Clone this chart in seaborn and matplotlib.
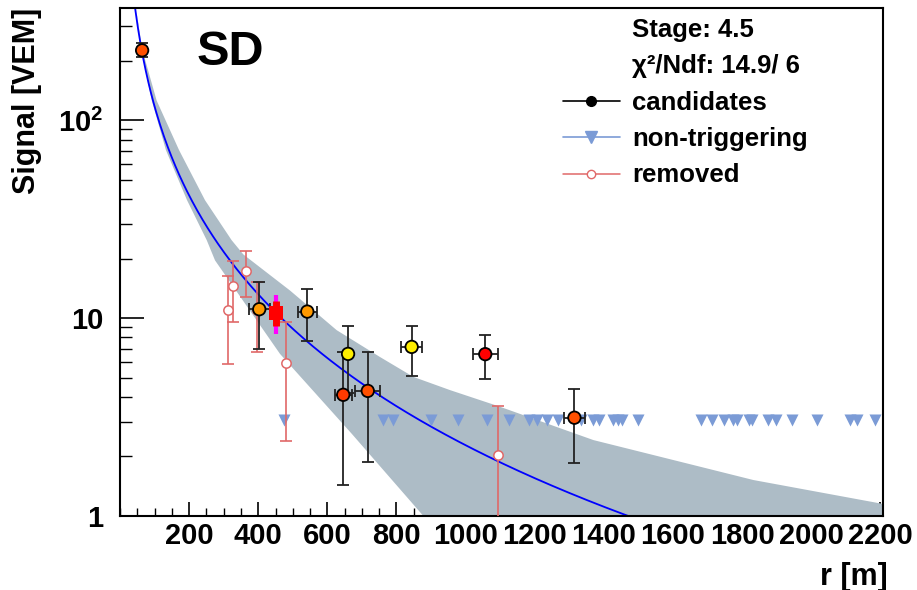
import numpy as np
import pandas as pd
import matplotlib
matplotlib.use("Agg")
import matplotlib.pyplot as plt
from matplotlib.lines import Line2D
from matplotlib.ticker import FixedLocator, FixedFormatter, MultipleLocator, LogLocator, NullFormatter
import seaborn as sns

# ---------------- data ----------------
# candidate stations
cand_r = [64, 403, 542, 646, 660, 717, 844, 1057, 1315]
cand_S = [226, 11.1, 10.8, 4.1, 6.6, 4.29, 7.16, 6.58, 3.14]
cand_S_hi = [245, 15.3, 14.0, 6.74, 9.1, 6.75, 9.1, 8.22, 4.41]
cand_S_lo = [210, 6.96, 7.67, 1.43, 4.2, 1.88, 5.1, 4.92, 1.85]
cand_r_err = [0, 31, 27, 24, 0, 36, 30, 36, 30]
cand_time = ["orangered", "orange", "orange", "red2", "yellow", "orangered", "yellow", "red", "orangered"]

# removed stations
rem_r = [313, 327, 364, 397, 480, 1095]
rem_S = [11.06, 14.5, 17.3, 11.06, 5.95, 2.03]
rem_S_hi = [16.3, 19.4, 21.8, 15.2, 9.6, 3.6]
rem_S_lo = [5.86, 9.6, 12.8, 6.76, 2.39, 0.5]

# non-triggering stations
nt_r = [475, 761, 790, 900, 979, 1062, 1126, 1184, 1207, 1236, 1268, 1334, 1369,
        1386, 1427, 1441, 1453, 1499, 1682, 1713, 1748, 1774, 1786, 1821, 1829,
        1876, 1899, 1945, 2017, 2113, 2133, 2185]
nt_S = [3.07] * len(nt_r)

# S(450) reference point
ref_r = [452]
ref_S = [10.6]
ref_stat = [(9.1, 12.2)]
ref_sys = [(8.3, 13.1)]

# LDF fit parameters
ldf_S1000 = 2.28
ldf_beta = -1.261
ldf_gamma = -0.12

# uncertainty band edges (r, S)
band_up_r = [46, 65, 106, 171, 246, 323, 357, 492, 627, 752, 849, 955, 1095, 1370, 1447, 1833, 2209, 2260]
band_up_S = [370, 226, 126, 70.7, 39.5, 24.8, 21.0, 13.8, 8.7, 6.37, 5.05, 4.33, 3.59, 2.42, 2.24, 1.52, 1.15, 1.12]
band_lo_r = [46, 62, 92, 133, 194, 251, 275, 463, 671, 878, 1000, 2260]
band_lo_S = [370, 226, 126, 70.7, 39.5, 24.8, 19.6, 6.6, 2.6, 1.0, 0.75, 0.75]

stage_text = "Stage: 4.5"
chi2_text = "\u03c7\u00b2/Ndf: 14.9/ 6"

# ---------------- styling ----------------
sns.set_theme(style="white")
plt.rcParams['font.family'] = ['Liberation Sans', 'DejaVu Sans']
plt.rcParams['font.weight'] = 'bold'
plt.rcParams['mathtext.fontset'] = 'custom'
plt.rcParams['mathtext.bf'] = 'Liberation Sans:bold'
plt.rcParams['mathtext.rm'] = 'Liberation Sans:bold'
for k in ["text.color", "axes.labelcolor", "xtick.color", "ytick.color", "axes.edgecolor"]:
    plt.rcParams[k] = "black"

palette = {"yellow": "#ffee00", "orange": "#ff9900", "orangered": "#ff5000",
           "red2": "#ff3a00", "red": "#ff0000"}
band_col = "#adbcc6"
nt_col = "#7b9bd6"
rem_col = "#e06868"

fig = plt.figure(figsize=(9.17, 5.90), dpi=100)
ax = fig.add_axes([120 / 917, 1 - 516 / 590, 763 / 917, 508 / 590])
ax.set_yscale("log")

# band
poly_r = list(band_up_r) + list(band_lo_r[::-1])
poly_S = list(band_up_S) + list(band_lo_S[::-1])
ax.fill(poly_r, poly_S, color=band_col, lw=0, zorder=1)

# fit line
rg = np.linspace(30, 2260, 600)
Sfit = ldf_S1000 * (rg / 1000) ** ldf_beta * ((rg + 700) / 1700) ** (ldf_beta + ldf_gamma)
sns.lineplot(x=rg, y=Sfit, color="#0000ff", lw=1.3, ax=ax, zorder=2, sort=False)

# non-triggering
sns.scatterplot(x=nt_r, y=nt_S, marker="v", color=nt_col, s=75, linewidth=0, ax=ax, zorder=3, legend=False)

# removed
rem_S_arr = np.array(rem_S)
ax.errorbar(rem_r, rem_S, yerr=[rem_S_arr - np.array(rem_S_lo), np.array(rem_S_hi) - rem_S_arr],
            fmt="none", ecolor=rem_col, elinewidth=1.2, capsize=4, capthick=1.2, zorder=4)
sns.scatterplot(x=rem_r, y=rem_S, marker="o", color="white", edgecolor=rem_col, linewidth=1.1,
                s=45, ax=ax, zorder=5, legend=False)

# candidates
cand_S_arr = np.array(cand_S)
ax.errorbar(cand_r, cand_S, xerr=cand_r_err,
            yerr=[cand_S_arr - np.array(cand_S_lo), np.array(cand_S_hi) - cand_S_arr],
            fmt="none", ecolor="#222222", elinewidth=1.3, capsize=4, capthick=1.3, zorder=6)
df = pd.DataFrame({"r": cand_r, "S": cand_S, "t": cand_time})
sns.scatterplot(data=df, x="r", y="S", hue="t", palette=palette, edgecolor="black", linewidth=1.3,
                s=80, ax=ax, zorder=7, legend=False)

# S450 reference point
ax.errorbar(ref_r, ref_S, yerr=[[ref_S[0] - ref_sys[0][0]], [ref_sys[0][1] - ref_S[0]]],
            fmt="none", ecolor="#ff00ff", elinewidth=3, zorder=8)
ax.errorbar(ref_r, ref_S, yerr=[[ref_S[0] - ref_stat[0][0]], [ref_stat[0][1] - ref_S[0]]],
            fmt="none", ecolor="#ff0000", elinewidth=5, zorder=9)
sns.scatterplot(x=ref_r, y=ref_S, marker="s", color="#ff0000", linewidth=0, s=90, ax=ax, zorder=10, legend=False)

# axes
ax.set_xlim(0, 2208)
ax.set_ylim(1, 370)
ax.xaxis.set_major_locator(FixedLocator(list(range(200, 2201, 200))))
ax.xaxis.set_minor_locator(MultipleLocator(50))
ax.yaxis.set_major_locator(FixedLocator([1, 10, 100]))
ax.yaxis.set_major_formatter(FixedFormatter(["1", "10", r"$\mathbf{10^{2}}$"]))
ax.yaxis.set_minor_locator(LogLocator(base=10, subs=np.arange(2, 10)))
ax.yaxis.set_minor_formatter(NullFormatter())

ax.tick_params(axis="x", which="major", direction="in", length=10, width=1.2, bottom=True, top=False,
               labelsize=21, pad=4, colors="black")
ax.tick_params(axis="x", which="minor", direction="in", length=5.5, width=1.0, bottom=True, top=False,
               colors="black")
ax.tick_params(axis="y", which="major", direction="in", length=17, width=1.2, left=True, right=False,
               labelsize=21, pad=12, colors="black")
ax.tick_params(axis="y", which="minor", direction="in", length=8.5, width=1.0, left=True, right=False,
               colors="black")
for lab in ax.get_xticklabels() + ax.get_yticklabels():
    lab.set_fontweight("bold")

for sp in ax.spines.values():
    sp.set_color("black")
    sp.set_linewidth(1.5)

ax.set_xlabel("r [m]", fontsize=22, fontweight="bold", loc="right", color="black")
ax.set_ylabel("Signal [VEM]", fontsize=22, fontweight="bold", loc="top", color="black")
ax.xaxis.set_label_coords(1.0066, -0.09)
ax.yaxis.set_label_coords(-0.102, 1.0)
ax.xaxis.label.set_va("top")

ax.text(0.144, 0.913, "SD", transform=ax.transAxes, fontsize=35, fontweight="bold",
        ha="center", va="center", color="black")

handles = [
    Line2D([], [], linestyle="none"),
    Line2D([], [], linestyle="none"),
    Line2D([], [], color="black", marker="o", markersize=7, lw=1.2),
    Line2D([], [], color=nt_col, marker="v", markersize=8, lw=1.2),
    Line2D([], [], color=rem_col, marker="o", markerfacecolor="white", markersize=6, lw=1.1),
]
labels = [stage_text, chi2_text, "candidates", "non-triggering", "removed"]
leg = ax.legend(handles, labels, loc="upper left", bbox_to_anchor=(0.5806, 0.98), frameon=False,
                handlelength=2.2, handletextpad=0.48, labelspacing=0.48, borderpad=0,
                borderaxespad=0, prop={"weight": "bold", "size": 18.5})
for t in leg.get_texts():
    t.set_color("black")

fig.savefig("out.png", dpi=100)
